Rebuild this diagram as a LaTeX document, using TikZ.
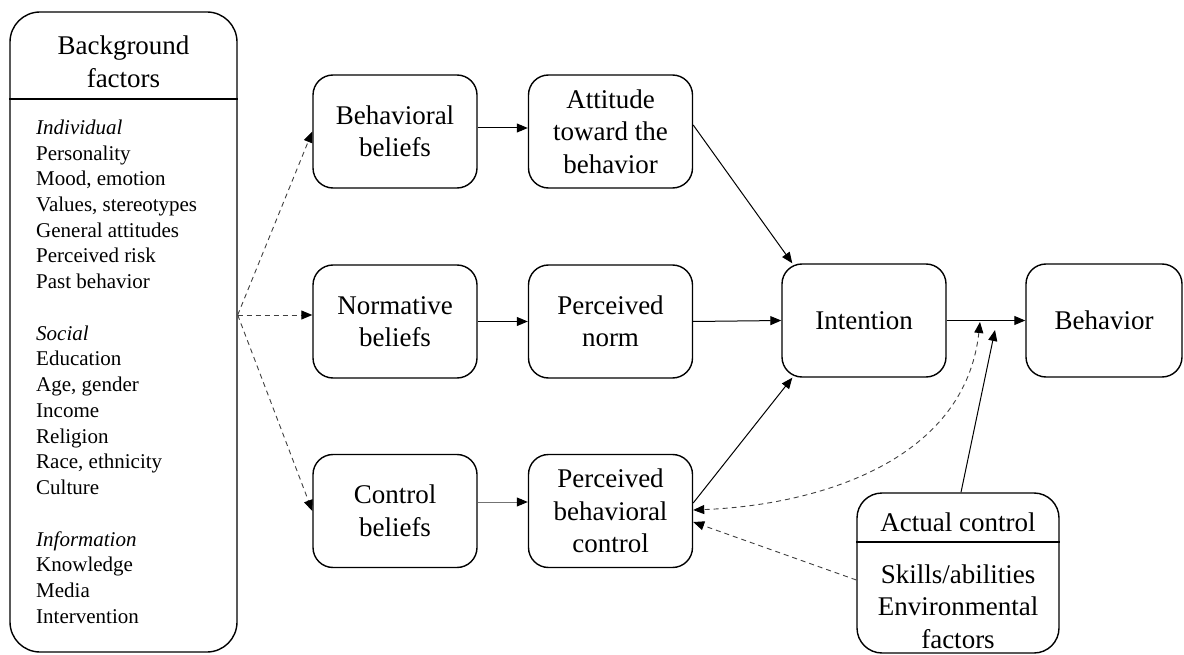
\documentclass[tikz,border=0pt]{standalone}
\usepackage{fontspec}
\setmainfont{Liberation Serif}
\usetikzlibrary{arrows.meta}
\begin{document}
\begin{tikzpicture}[x=1pt,y=-1pt,
  box/.style={draw, line width=1.4pt, rounded corners=20pt, minimum width=164pt, minimum height=113pt, align=center, inner sep=0pt, font=\fontsize{27}{32.5}\selectfont},
  frame/.style={draw, line width=1.4pt, inner sep=0pt},
  arr/.style={line width=1pt, -{Triangle[length=11pt,width=9pt,color=black]}},
  dsh/.style={line width=0.9pt, draw=black!75, dash pattern=on 5pt off 4pt, -{Triangle[length=11pt,width=9pt,color=black]}},
  lbl/.style={inner sep=0pt, align=center, font=\fontsize{27}{32.5}\selectfont}]
\useasboundingbox (0,0) rectangle (1184,655);

% background factors
\node[frame, rounded corners=30pt, minimum width=227pt, minimum height=640pt] (bg) at (123.5,332) {};
\coordinate (bgdiv) at (0,99);
\draw[line width=1.4pt] (bg.west |- bgdiv) -- (bg.east |- bgdiv);
\node[lbl] (bgtitle) at (123.5,62) {Background\\factors};
\node[inner sep=0pt, align=left, anchor=north west, font=\fontsize{21}{25.74}\selectfont] (bglist) at (36,119.5) {%
\textit{Individual}\\Personality\\Mood, emotion\\Values, stereotypes\\General attitudes\\Perceived risk\\Past behavior\\[25.74pt]
\textit{Social}\\Education\\Age, gender\\Income\\Religion\\Race, ethnicity\\Culture\\[25.74pt]
\textit{Information}\\Knowledge\\Media\\Intervention};

% belief and perception nodes
\node[box] (bb)  at (395,131.5) {Behavioral\\beliefs};
\node[box] (att) at (610.5,131.5) {Attitude\\toward the\\behavior};
\node[box] (nb)  at (395,321.5) {Normative\\beliefs};
\node[box] (pn)  at (610.5,321.5) {Perceived\\norm};
\node[box] (cb)  at (395,511) {Control\\beliefs};
\node[box] (pbc) at (610.5,511) {Perceived\\behavioral\\control};
\node[box] (int) at (864,320.5) {Intention};
\node[box, minimum width=156pt] (beh) at (1104,320.5) {Behavior};

% actual control
\node[frame, rounded corners=25pt, minimum width=202pt, minimum height=160pt] (ac) at (958,573) {};
\coordinate (acdiv) at (0,542);
\draw[line width=1.4pt] (ac.west |- acdiv) -- (ac.east |- acdiv);
\node[lbl] (actitle) at (958,522) {Actual control};
\node[lbl] (acbody) at (958,606.5) {Skills/abilities\\Environmental\\factors};

% dashed arrows from background factors
\coordinate (src) at ([yshift=17pt]bg.east);
\draw[dsh] (src) -- (bb.west);
\draw[dsh] (src) -- ([yshift=6.5pt]nb.west);
\draw[dsh] (src) -- (cb.west);

% solid arrows
\draw[arr] ([yshift=3.5pt]bb.east) -- ([yshift=3.5pt]att.west);
\draw[arr] (nb.east) -- (pn.west);
\draw[arr, draw=black!55] ([yshift=9pt]cb.east) -- ([yshift=9pt]pbc.west);
\draw[arr] ([yshift=6.5pt]att.east) -- ([xshift=11pt]int.north west);
\draw[arr] (pn.east) -- (int.west);
\draw[arr] ([yshift=8pt]pbc.east) -- ([xshift=11pt]int.south west);
\draw[arr] (int.east) -- (beh.west);

% moderation arrows
\coordinate (j1) at (980,322);
\coordinate (j2) at (995,330);
\draw[arr] ([xshift=3pt]ac.north) -- (j2);
\draw[dsh, {Triangle[length=11pt,width=9pt,color=black]}-{Triangle[length=11pt,width=9pt,color=black]}] (j1) .. controls (965,460) and (820,505) .. ([yshift=1pt]pbc.east);
\draw[dsh] ([yshift=-7pt]ac.west) -- ([yshift=-11pt]pbc.east);
\end{tikzpicture}
\end{document}
